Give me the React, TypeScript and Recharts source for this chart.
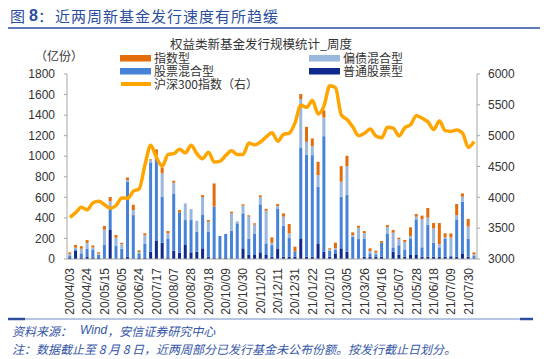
import React from 'react';
import { ComposedChart, Bar, Line, XAxis, YAxis } from 'recharts';

const weeks = [
  '20/04/03','20/04/10','20/04/17','20/04/24','20/04/30','20/05/08','20/05/15','20/05/22','20/05/29','20/06/05',
  '20/06/12','20/06/19','20/06/24','20/07/03','20/07/10','20/07/17','20/07/24','20/07/31','20/08/07','20/08/14',
  '20/08/21','20/08/28','20/09/04','20/09/11','20/09/18','20/09/25','20/09/30','20/10/09','20/10/16','20/10/23',
  '20/10/30','20/11/06','20/11/13','20/11/20','20/11/27','20/12/04','20/12/11','20/12/18','20/12/25','20/12/31',
  '21/01/08','21/01/15','21/01/22','21/01/29','21/02/05','21/02/10','21/02/19','21/02/26','21/03/05','21/03/12',
  '21/03/19','21/03/26','21/04/02','21/04/09','21/04/16','21/04/23','21/04/30','21/05/07','21/05/14','21/05/21',
  '21/05/28','21/06/04','21/06/11','21/06/18','21/06/25','21/07/02','21/07/09','21/07/16','21/07/23','21/07/30',
  '21/08/06',
];

// 普通股票型
const putong = [
  10,80,15,20,15,10,6,282,6,16,
  23,6,10,10,70,175,159,10,81,61,
  136,65,71,104,23,15,9,10,0,0,
  104,39,39,65,39,22,97,23,22,23,
  201,22,22,152,71,23,49,104,71,0,
  0,23,23,23,23,0,71,44,23,39,
  39,23,23,23,23,23,20,23,55,23,
  0,
];
// 股票混合型
const gupiao = [
  25,15,40,82,78,32,130,227,120,84,
  729,421,45,140,870,820,447,190,557,392,
  243,314,194,324,243,495,215,233,276,347,
  340,156,204,467,113,113,395,301,185,52,
  885,995,988,551,1124,58,39,502,551,217,
  194,172,32,23,136,249,42,90,65,162,
  347,91,311,136,91,178,10,363,502,172,
  29,
];
// 偏债混合型
const pianzhai = [
  15,15,45,55,19,10,149,52,81,45,
  16,49,13,80,20,16,227,50,104,0,
  162,107,107,175,97,0,0,0,168,19,
  75,217,91,71,317,23,23,88,42,0,
  470,123,88,113,181,10,16,146,282,16,
  110,58,23,16,0,62,143,60,78,23,
  26,272,68,139,32,10,180,42,49,120,
  16,
];
// 指数型
const zhishu = [
  15,26,25,27,19,13,36,42,26,13,
  26,52,16,20,10,55,58,22,19,23,
  0,0,0,19,16,225,0,0,16,0,
  13,13,13,16,19,52,19,32,91,45,
  49,146,75,130,71,13,55,152,100,26,
  19,19,26,19,16,19,26,13,19,84,
  26,36,94,52,204,39,39,107,32,75,
  19,
];
// 沪深300指数（右）
const hs300 = [
  3675,3751,3839,3797,3912,3937,3880,3825,3868,3990,
  3985,4099,4138,4526,4844,4643,4506,4695,4708,4778,
  4722,4843,4707,4627,4731,4571,4587,4681,4755,4694,
  4695,4880,4849,4898,4980,5049,4911,5020,5042,5211,
  5495,5458,5569,5351,5483,5808,5779,5336,5262,5140,
  5000,5037,5108,4994,4966,5135,5123,4995,5130,5176,
  5321,5282,5224,5102,5239,5081,5069,5092,5040,4811,
  4906,
];

const leftTicks = [0, 200, 400, 600, 800, 1000, 1200, 1400, 1600, 1800];
const rightTicks = [3000, 3500, 4000, 4500, 5000, 5500, 6000];

const data = weeks.map((w, i) => ({
  week: w,
  putong: putong[i],
  gupiao: gupiao[i],
  pianzhai: pianzhai[i],
  zhishu: zhishu[i],
  hs300: hs300[i],
}));

const C_NAVY = '#10298C';
const C_MED = '#4682D8';
const C_LIGHT = '#9AB7DE';
const C_ORANGE = '#E46C0A';
const C_LINE = '#FFA500';
const CJK = '"Noto Sans CJK SC", "Noto Sans", sans-serif';
const LAT = '"Liberation Sans", Arial, sans-serif';
const BLUE_TXT = '#3556A8';

const XTick = (props: any) => {
  const { x, y, payload } = props;
  return (
    <g transform={`translate(${x},${y})`}>
      <text transform="rotate(-90)" textAnchor="end" dy="0.35em" fontSize={12} fill="#333" fontFamily={LAT}>
        {payload.value}
      </text>
    </g>
  );
};

const legendText = (label: string, left: number, cy: number) => (
  <div
    style={{
      position: 'absolute',
      left,
      top: cy - 6,
      height: 12,
      lineHeight: '12px',
      fontSize: 12,
      fontFamily: CJK,
      color: '#333',
      whiteSpace: 'nowrap',
    }}
  >
    {label}
  </div>
);

export default function App() {
  return (
    <div style={{ position: 'absolute', left: 0, top: 0, width: 550, height: 359, background: '#fff' }}>
      <ComposedChart
        width={550}
        height={359}
        data={data}
        margin={{ top: 74, right: 28, bottom: 40, left: 27 }}
        barCategoryGap="22%"
      >
        <XAxis
          dataKey="week"
          interval={2}
          tick={<XTick />}
          tickLine={false}
          tickSize={0}
          tickMargin={9}
          height={60}
          axisLine={{ stroke: '#A6A6A6' }}
        />
        <YAxis
          yAxisId="left"
          orientation="left"
          domain={[0, 1800]}
          ticks={leftTicks}
          width={40}
          tickSize={3}
          tickMargin={9}
          axisLine={{ stroke: '#A6A6A6' }}
          tickLine={{ stroke: '#A6A6A6' }}
          tick={{ fontSize: 12, fill: '#333', fontFamily: LAT }}
          interval={0}
        />
        <YAxis
          yAxisId="right"
          orientation="right"
          domain={[3000, 6000]}
          ticks={rightTicks}
          width={45}
          tickSize={3}
          tickMargin={8}
          axisLine={{ stroke: '#A6A6A6' }}
          tickLine={{ stroke: '#A6A6A6' }}
          tick={{ fontSize: 12, fill: '#333', fontFamily: LAT }}
          interval={0}
        />
        <Bar yAxisId="left" dataKey="putong" stackId="s" fill={C_NAVY} isAnimationActive={false} />
        <Bar yAxisId="left" dataKey="gupiao" stackId="s" fill={C_MED} isAnimationActive={false} />
        <Bar yAxisId="left" dataKey="pianzhai" stackId="s" fill={C_LIGHT} isAnimationActive={false} />
        <Bar yAxisId="left" dataKey="zhishu" stackId="s" fill={C_ORANGE} isAnimationActive={false} />
        <Line
          yAxisId="right"
          dataKey="hs300"
          type="monotone"
          stroke={C_LINE}
          strokeWidth={3.5}
          dot={false}
          isAnimationActive={false}
        />
      </ComposedChart>
      <svg width={550} height={359} style={{ position: 'absolute', left: 0, top: 0, pointerEvents: 'none' }}>
        {/* Figure title */}
        <text y={15} dominantBaseline="central" fontSize={15} fill="#2B4E9F" fontFamily={CJK}>
          <tspan x={10}>图</tspan>
          <tspan x={29} fontFamily={LAT} fontWeight="bold" fontSize={16}>8</tspan>
          <tspan x={38}>：</tspan>
          <tspan x={55} letterSpacing={1}>近两周新基金发行速度有所趋缓</tspan>
        </text>
        <line x1={8} x2={540} y1={28} y2={28} stroke="#2B4E9F" strokeWidth={1.5} />

        {/* Chart title */}
        <text x={261} y={43} textAnchor="middle" dominantBaseline="central" fontSize={12.5} fill="#333" fontFamily={CJK}>
          权益类新基金发行规模统计_周度
        </text>
        <text x={35} y={55} dominantBaseline="central" fontSize={12} fill="#333" fontFamily={CJK}>
          （亿份）
        </text>

        {/* Legend swatches */}
        <rect x={120} y={55} width={31} height={6.5} fill={C_ORANGE} />
        <rect x={120} y={68} width={31} height={6.5} fill={C_MED} />
        <line x1={121} x2={151} y1={84} y2={84} stroke={C_LINE} strokeWidth={4} />
        <rect x={309} y={55} width={31} height={6.5} fill={C_LIGHT} />
        <rect x={309} y={68} width={31} height={6.5} fill={C_NAVY} />

        {/* Footer */}
        <line x1={8} x2={533} y1={319} y2={319} stroke="#6F8CC6" strokeWidth={1} />
        <line x1={8} x2={25} y1={319} y2={319} stroke="#2B4E9F" strokeWidth={2.5} />
        <line x1={520} x2={533} y1={319} y2={319} stroke="#2B4E9F" strokeWidth={2.5} />
        <text x={12} y={330} dominantBaseline="central" fontSize={12} fill={BLUE_TXT} fontFamily={CJK} fontStyle="italic">
          资料来源：
          <tspan x={80} fontFamily={LAT}>Wind</tspan>
          <tspan>，安信证券研究中心</tspan>
        </text>
        <text x={12} y={348} dominantBaseline="central" fontSize={12} fill={BLUE_TXT} fontFamily={CJK} fontStyle="italic">
          注：数据截止至 8 月 8 日，近两周部分已发行基金未公布份额。按发行截止日划分。
        </text>
      </svg>
      {legendText('指数型', 154, 58)}
      {legendText('股票混合型', 154, 71)}
      {legendText('沪深300指数（右）', 154, 84)}
      {legendText('偏债混合型', 343, 58)}
      {legendText('普通股票型', 343, 71)}
    </div>
  );
}
